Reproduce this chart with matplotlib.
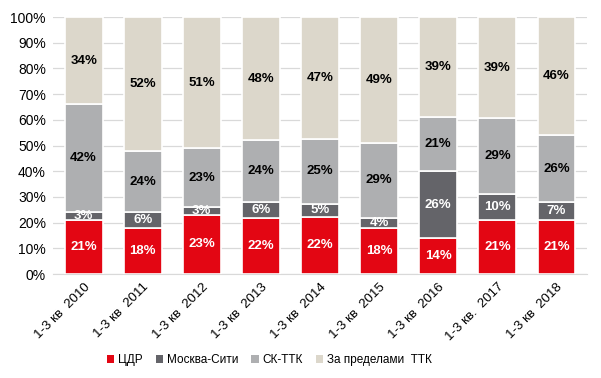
import matplotlib
matplotlib.use("Agg")
import matplotlib.pyplot as plt
import numpy as np

plt.rcParams['font.family'] = ['Liberation Sans', 'DejaVu Sans']

categories = ["1-3 кв  2010", "1-3 кв  2011", "1-3 кв  2012", "1-3 кв  2013",
              "1-3 кв  2014", "1-3 кв  2015", "1-3 кв  2016", "1-3 кв.  2017",
              "1-3 кв  2018"]
series_names = ["ЦДР", "Москва-Сити", "СК-ТТК", "За пределами  ТТК"]
cdr = [21, 18, 23, 22, 22, 18, 14, 21, 21]
city = [3, 6, 3, 6, 5, 4, 26, 10, 7]
sk_ttk = [42, 24, 23, 24, 25, 29, 21, 29, 26]
outside = [34, 52, 51, 48, 47, 49, 39, 39, 46]

colors = ["#E30613", "#646469", "#AEAFB1", "#DCD7CB"]
text_colors = ["white", "white", "black", "black"]

data = np.array([cdr, city, sk_ttk, outside], dtype=float)
share = data / data.sum(axis=0) * 100

fig = plt.figure(figsize=(6.01, 3.78), dpi=100)
ax = fig.add_axes([0.088, 0.275, 0.889, 0.68])

x = np.arange(len(categories))
bottom = np.zeros(len(categories))
for i, name in enumerate(series_names):
    ax.bar(x, share[i], 0.64, bottom=bottom, color=colors[i], label=name,
           edgecolor="white", linewidth=1.2, zorder=3)
    for j in range(len(categories)):
        ax.text(x[j], bottom[j] + share[i][j] / 2, f"{int(data[i][j])}%",
                ha="center", va="center", fontsize=9.5, fontweight="bold",
                color=text_colors[i], zorder=4)
    bottom += share[i]

ax.set_xlim(-0.52, len(categories) - 0.48)
ax.set_ylim(0, 100)
ax.set_yticks(np.arange(0, 101, 10))
ax.set_yticklabels([f"{v}%" for v in range(0, 101, 10)], fontsize=10)
ax.yaxis.grid(True, color="#D9D9D9", linewidth=0.9, zorder=0)
ax.set_axisbelow(True)
for s in ["top", "right", "left"]:
    ax.spines[s].set_visible(False)
ax.spines["bottom"].set_color("#D9D9D9")
ax.tick_params(axis="both", length=0, pad=5)
ax.set_xticks(x)
ax.set_xticklabels(categories, rotation=45, ha="right", rotation_mode="anchor",
                   fontsize=9.5)

leg = ax.legend(loc="lower center", bbox_to_anchor=(0.405, -0.40), ncol=4,
                frameon=False, fontsize=8.5, handlelength=0.65, handleheight=0.65,
                handletextpad=0.3, columnspacing=1.1)
for h in leg.legend_handles:
    h.set_edgecolor("none")

fig.savefig("out.png", dpi=100)
